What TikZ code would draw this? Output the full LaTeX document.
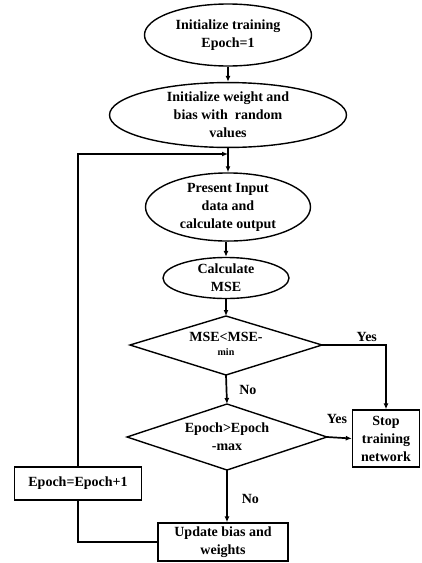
\documentclass[tikz,border=0pt]{standalone}
\usepackage{fontspec}
\setmainfont{Liberation Serif}
\usetikzlibrary{shapes.geometric,arrows.meta}
\begin{document}
\begin{tikzpicture}[x=1pt,y=-1pt,
  every node/.style={font=\bfseries\fontsize{14}{18}\selectfont, align=center, inner sep=0pt},
  ell/.style={draw, ellipse, line width=1.4pt},
  boxn/.style={draw, rectangle, line width=1.4pt},
  diaedge/.style={line width=1.4pt, line join=miter},
  conn/.style={line width=1.7pt},
  arr/.style={conn, -{Latex[length=6pt,width=5pt]}}]
\useasboundingbox (0,0) rectangle (422,563);
\node[ell, minimum width=167pt, minimum height=62pt] (e1) at (228,35) {Initialize training\\Epoch=1};
\node[ell, minimum width=237pt, minimum height=64pt] (e2) at (228,115) {Initialize weight and\\bias with\ \ random\\values};
\node[ell, minimum width=165pt, minimum height=68pt] (e3) at (228,207) {Present Input\\data and\\calculate output};
\node[ell, minimum width=126pt, minimum height=41pt] (e4) at (226,278) {Calculate\\MSE};
% diamond 1
\coordinate (d1n) at (226,316);
\coordinate (d1s) at (226,375);
\coordinate (d1e) at (322,345);
\coordinate (d1w) at (130,345);
\draw[diaedge] (d1n) -- (d1e) -- (d1s) -- (d1w) -- cycle;
\node (d1) at (226,344) {MSE<MSE-\\[-4pt]{\fontsize{10}{11}\selectfont min}};
% diamond 2
\coordinate (d2n) at (227,404);
\coordinate (d2s) at (227,470);
\coordinate (d2e) at (327,437);
\coordinate (d2w) at (127,437);
\draw[diaedge] (d2n) -- (d2e) -- (d2s) -- (d2w) -- cycle;
\node (d2) at (227,437) {Epoch>Epoch\\-max};
\node[boxn, minimum width=67pt, minimum height=57pt] (stop) at (386,438.5) {Stop\\training\\network};
\node[boxn, minimum width=130pt, minimum height=38pt] (upd) at (223,542) {Update bias and\\weights};
\node[boxn, minimum width=127pt, minimum height=33pt] (ep) at (78,483.5) {Epoch=Epoch+1};
\coordinate (j) at (228,154);
\draw[arr] (e1) -- (e2);
\draw[conn] (e2) -- (j);
\draw[arr] (j) -- (e3);
\draw[arr] (e3.south -| e4.north) -- (e4);
\draw[arr] (e4) -- (d1n);
\draw[arr] (d1e) -| node[pos=0.35, above=3pt] {Yes} (stop.north);
\draw[arr] (d1s) -- node[right=12pt, pos=0.5] {No} (d2n);
\draw[arr] (d2e) -- node[above=13pt, pos=0.4] {Yes} (stop.west);
\draw[arr] (d2s) -- node[right=14pt, pos=0.55] {No} (upd.north -| d2s);
\draw[conn] (upd.west) -| (ep.south);
\draw[arr] (ep.north) |- (j);
\end{tikzpicture}
\end{document}
